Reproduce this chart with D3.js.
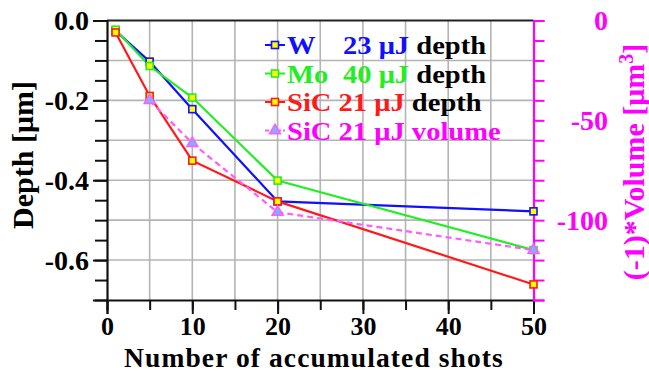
<!DOCTYPE html>
<html>
<head>
<meta charset="utf-8">
<script src="https://cdn.jsdelivr.net/npm/d3@7"></script>
<style>
  html, body { margin: 0; padding: 0; background: #fff; }
  svg { display: block; }
  text { font-family: "Liberation Serif", "Times New Roman", serif; font-weight: bold; }
</style>
</head>
<body>
<svg id="chart" width="649" height="373"></svg>
<script>
// Crater depth / volume versus number of accumulated laser shots
const shots = [1, 5, 10, 20, 50];
const wDepth = [-0.026, -0.103, -0.222, -0.453, -0.478];
const moDepth = [-0.023, -0.114, -0.193, -0.401, -0.575];
const sicDepth = [-0.030, -0.189, -0.351, -0.453, -0.661];
const volShots = [5, 10, 20, 50];
const sicVolume = [-40, -61.5, -96, -115];

const xTicks = [0, 10, 20, 30, 40, 50];
const depthTicks = [0, -0.2, -0.4, -0.6];
const volumeTicks = [0, -50, -100];

const series = [
  { name: "W", energy: "23", kind: "depth", color: "#1010ff", x: shots, y: wDepth, axis: "depth" },
  { name: "Mo", energy: "40", kind: "depth", color: "#22ee22", x: shots, y: moDepth, axis: "depth" },
  { name: "SiC", energy: "21", kind: "depth", color: "#ff1a1a", x: shots, y: sicDepth, axis: "depth" },
  { name: "SiC", energy: "21", kind: "volume", color: "#ff5cff", x: volShots, y: sicVolume, axis: "volume" }
];

const svg = d3.select("#chart");
const plotLeft = 107, plotRight = 533.5, plotTop = 20.5, plotBottom = 300;

const x = d3.scaleLinear().domain([0, 50]).range([plotLeft, plotRight]);
const yDepth = d3.scaleLinear().domain([-0.7, 0]).range([plotBottom, plotTop]);
const yVol = d3.scaleLinear().domain([-140, 0]).range([plotBottom, plotTop]);

// grid
const grid = svg.append("g").attr("stroke", "#b4b4b4").attr("stroke-width", 1.6);
grid.selectAll("line.v").data(d3.range(5, 50, 5)).join("line").attr("class", "v")
  .attr("x1", d => x(d)).attr("x2", d => x(d)).attr("y1", plotTop).attr("y2", plotBottom);
grid.selectAll("line.h").data([-0.6, -0.5, -0.4, -0.3, -0.2, -0.1]).join("line").attr("class", "h")
  .attr("y1", d => yDepth(d)).attr("y2", d => yDepth(d)).attr("x1", plotLeft).attr("x2", plotRight);

// top frame line
svg.append("line").attr("x1", plotLeft).attr("x2", plotRight).attr("y1", plotTop).attr("y2", plotTop)
  .attr("stroke", "#222").attr("stroke-width", 2);

// bottom axis: minor ticks every 5 shots, labelled ticks every 10
const xMinor = d3.range(0, 51, 5);
const gx = svg.append("g").attr("transform", `translate(0,${plotBottom})`);
gx.call(d3.axisBottom(x).tickValues(xMinor).tickSize(10).tickFormat(""))
  .call(g => g.select(".domain").remove());
gx.selectAll(".tick line").attr("stroke", "#111").attr("stroke-width", 2);
const gxMajor = svg.append("g").attr("transform", `translate(0,${plotBottom})`);
gxMajor.call(d3.axisBottom(x).tickValues(xTicks).tickSize(14).tickPadding(3).tickFormat(d3.format("d")))
  .call(g => g.select(".domain").attr("stroke", "#111").attr("stroke-width", 2));
gxMajor.selectAll(".tick line").attr("stroke", "#111").attr("stroke-width", 2);
gxMajor.selectAll(".tick text").attr("font-size", 26).attr("fill", "#000")
  .attr("font-family", "Liberation Serif").attr("font-weight", "bold");

// left axis
const gy = svg.append("g").attr("transform", `translate(${plotLeft},0)`);
gy.call(d3.axisLeft(yDepth).tickValues(d3.range(0, 15).map(i => -i * 0.05)).tickSize(12).tickFormat(""))
  .call(g => g.select(".domain").remove());
gy.selectAll(".tick line").attr("stroke", "#111").attr("stroke-width", 2);
const gyMajor = svg.append("g").attr("transform", `translate(${plotLeft},0)`);
gyMajor.call(d3.axisLeft(yDepth).tickValues(depthTicks).tickSize(14).tickPadding(4).tickFormat(d3.format(".1f")))
  .call(g => g.select(".domain").attr("stroke", "#111").attr("stroke-width", 2.2));
gyMajor.selectAll(".tick line").attr("stroke", "#111").attr("stroke-width", 2);
gyMajor.selectAll(".tick text").attr("font-size", 28).attr("fill", "#000")
  .text(d => d === 0 ? "0.0" : d3.format(".1f")(d).replace("\u2212", "-"))
  .attr("font-family", "Liberation Serif").attr("font-weight", "bold");

// right (volume) axis
const gr = svg.append("g").attr("transform", `translate(${plotRight},0)`);
gr.call(d3.axisRight(yVol).tickValues(d3.range(0, 15).map(i => -i * 10)).tickSize(11).tickFormat(""))
  .call(g => g.select(".domain").attr("stroke", "#ff00ff").attr("stroke-width", 2.2));
gr.selectAll(".tick line").attr("stroke", "#ff00ff").attr("stroke-width", 2);
svg.append("g").selectAll("text").data(volumeTicks).join("text")
  .attr("x", 608).attr("y", d => yVol(d)).attr("dy", "0.35em")
  .attr("text-anchor", "end").attr("font-size", 28).attr("fill", "#ff00ff")
  .text(d => d3.format("d")(d).replace("\u2212", "-"));

// series lines and markers
const line = d3.line();
series.forEach(s => {
  const ys = s.axis === "depth" ? yDepth : yVol;
  const pts = s.x.map((v, i) => [x(v), ys(s.y[i])]);
  svg.append("path").attr("d", line(pts)).attr("fill", "none")
    .attr("stroke", s.color).attr("stroke-width", 2.2)
    .attr("stroke-dasharray", s.kind === "volume" ? "6,4" : null);
});
function marker(g, s, cx, cy) {
  if (s.kind === "volume") {
    g.append("path").attr("d", d3.symbol(d3.symbolTriangle, 50)())
      .attr("transform", `translate(${cx},${cy})`)
      .attr("fill", "#7fb2ff").attr("stroke", s.color).attr("stroke-width", 1.6);
  } else {
    g.append("rect").attr("x", cx - 3.5).attr("y", cy - 3.5).attr("width", 7).attr("height", 7)
      .attr("fill", "#ffff00").attr("stroke", s.color).attr("stroke-width", 1.6);
  }
}
series.forEach(s => {
  const ys = s.axis === "depth" ? yDepth : yVol;
  const g = svg.append("g");
  s.x.forEach((v, i) => marker(g, s, x(v), ys(s.y[i])));
});

// legend (rows are tight, so the text is set slightly condensed in height)
const legendRows = [45, 73.5, 102, 130.5];
series.forEach((s, i) => {
  const cy = legendRows[i];
  const g = svg.append("g");
  g.append("line").attr("x1", 265).attr("x2", 285).attr("y1", cy).attr("y2", cy)
    .attr("stroke", s.color).attr("stroke-width", 2)
    .attr("stroke-dasharray", s.kind === "volume" ? "4,2" : null);
  marker(g, s, 275, cy);
  const t = g.append("text").attr("transform", `translate(287,${cy + 9}) scale(1.12,1)`)
    .attr("font-size", 25.5);
  const txtColor = s.kind === "volume" ? "#ff00ff" : s.color;
  t.append("tspan").attr("fill", txtColor).text(s.name);
  const aligned = s.name !== "SiC";
  const num = t.append("tspan").attr("fill", txtColor)
    .text((aligned ? "" : "\u00a0") + s.energy + "\u00a0\u03bcJ\u00a0");
  if (aligned) num.attr("x", 50);
  t.append("tspan").attr("fill", s.kind === "volume" ? "#ff00ff" : "#000").text(s.kind);
});

// axis titles
svg.append("text").attr("transform", "translate(33,155) rotate(-90)")
  .attr("text-anchor", "middle").attr("font-size", 30).attr("fill", "#000")
  .text("Depth [\u03bcm]");
svg.append("text").attr("x", 314).attr("y", 366.5)
  .attr("text-anchor", "middle").attr("font-size", 27.5).attr("letter-spacing", 1.1).attr("fill", "#000")
  .text("Number of accumulated shots");
const rt = svg.append("text").attr("transform", "translate(644,162) rotate(-90)")
  .attr("text-anchor", "middle").attr("font-size", 30).attr("fill", "#ff00ff");
rt.append("tspan").text("(-1)*Volume [\u03bcm");
rt.append("tspan").attr("font-size", 20).attr("dy", -11).text("3");
rt.append("tspan").attr("dy", 11).text("]");
</script>
</body>
</html>
